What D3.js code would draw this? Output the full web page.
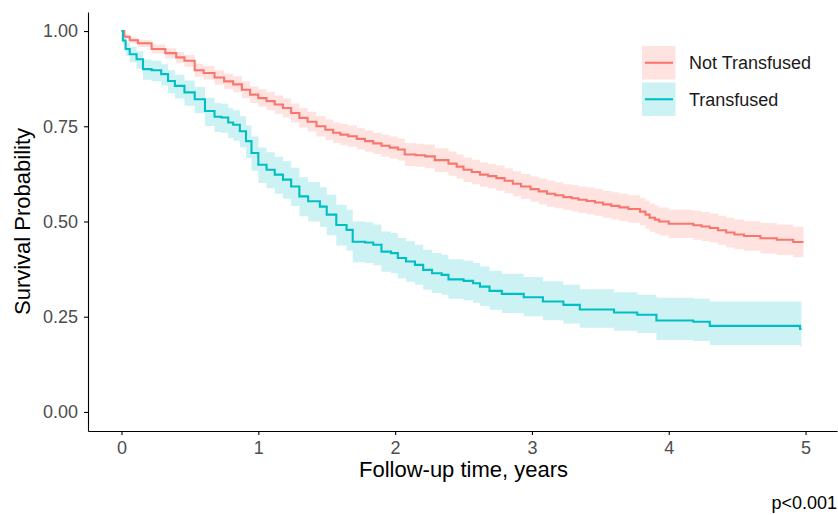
<!DOCTYPE html>
<html>
<head>
<meta charset="utf-8">
<script src="https://cdn.jsdelivr.net/npm/d3@7"></script>
<style>
  body { margin: 0; background: #fff; }
  svg { font-family: "Liberation Sans", Arial, sans-serif; }
  .axis path, .axis line { stroke: #000; stroke-width: 1.1; }
  .axis text { fill: #4d4d4d; font-size: 18px; }
</style>
</head>
<body>
<svg id="chart" width="838" height="515"></svg>
<script>
const groups = ['Not Transfused', 'Transfused'];
const colors = ['#F8766D', '#00BFC4'];
const fills = ['#fee3e1', '#ccf2f3'];

// Not Transfused: step times, survival, confidence band
const notTime = [0, 0.02, 0.06, 0.12, 0.22, 0.32, 0.40, 0.46, 0.535, 0.60, 0.68, 0.75, 0.816, 0.88, 0.94,
  1.00, 1.06, 1.12, 1.18, 1.24, 1.30, 1.36, 1.425, 1.49, 1.547, 1.60, 1.657, 1.72, 1.78, 1.84, 1.90, 1.96,
  2.02, 2.07, 2.15, 2.22, 2.29, 2.39, 2.45, 2.50, 2.56, 2.62, 2.68, 2.74, 2.80, 2.86, 2.92, 2.99, 3.05,
  3.11, 3.17, 3.23, 3.29, 3.34, 3.40, 3.46, 3.52, 3.58, 3.64, 3.705, 3.79, 3.83, 3.86, 3.90, 3.93, 4.00,
  4.18, 4.24, 4.30, 4.36, 4.42, 4.48, 4.55, 4.67, 4.79, 4.91, 4.985];
const notSurv = [1.0, 0.985, 0.976, 0.968, 0.953, 0.942, 0.931, 0.922, 0.897, 0.89, 0.878, 0.868, 0.860, 0.846, 0.833,
  0.824, 0.816, 0.807, 0.798, 0.785, 0.772, 0.762, 0.75, 0.741, 0.733, 0.728, 0.724, 0.717, 0.711, 0.705, 0.699, 0.694,
  0.689, 0.676, 0.674, 0.671, 0.661, 0.652, 0.644, 0.636, 0.630, 0.623, 0.619, 0.614, 0.607, 0.599, 0.592, 0.585, 0.579,
  0.573, 0.569, 0.564, 0.561, 0.557, 0.554, 0.550, 0.545, 0.541, 0.537, 0.533, 0.526, 0.518, 0.510, 0.505, 0.500, 0.494,
  0.490, 0.487, 0.483, 0.477, 0.471, 0.466, 0.462, 0.456, 0.452, 0.446, 0.446];
const notLower = [1.0, 0.979, 0.968, 0.958, 0.941, 0.928, 0.916, 0.906, 0.880, 0.872, 0.859, 0.848, 0.839, 0.824, 0.811,
  0.801, 0.792, 0.783, 0.773, 0.760, 0.746, 0.736, 0.723, 0.714, 0.706, 0.700, 0.696, 0.689, 0.683, 0.677, 0.670, 0.665,
  0.660, 0.646, 0.644, 0.640, 0.630, 0.620, 0.612, 0.604, 0.598, 0.591, 0.587, 0.581, 0.574, 0.566, 0.559, 0.552, 0.545,
  0.539, 0.535, 0.530, 0.526, 0.522, 0.519, 0.515, 0.510, 0.505, 0.501, 0.497, 0.490, 0.481, 0.473, 0.468, 0.463, 0.457,
  0.452, 0.449, 0.445, 0.439, 0.432, 0.427, 0.423, 0.416, 0.412, 0.406, 0.406];
const notUpper = [1.0, 0.991, 0.984, 0.977, 0.965, 0.955, 0.945, 0.937, 0.914, 0.908, 0.897, 0.888, 0.881, 0.868, 0.855,
  0.847, 0.840, 0.831, 0.823, 0.810, 0.798, 0.788, 0.777, 0.768, 0.760, 0.756, 0.752, 0.745, 0.739, 0.733, 0.728, 0.723,
  0.718, 0.706, 0.704, 0.702, 0.692, 0.684, 0.676, 0.668, 0.662, 0.655, 0.651, 0.647, 0.640, 0.632, 0.625, 0.618, 0.613,
  0.607, 0.603, 0.598, 0.596, 0.592, 0.589, 0.585, 0.580, 0.577, 0.573, 0.569, 0.562, 0.555, 0.547, 0.542, 0.537, 0.531,
  0.528, 0.525, 0.521, 0.515, 0.510, 0.505, 0.501, 0.496, 0.492, 0.486, 0.486];

// Transfused
const trTime = [0, 0.01, 0.03, 0.06, 0.11, 0.157, 0.22, 0.29, 0.34, 0.39, 0.46, 0.535, 0.61, 0.68, 0.73, 0.78,
  0.816, 0.865, 0.91, 0.95, 1.0, 1.06, 1.12, 1.18, 1.24, 1.30, 1.364, 1.45, 1.50, 1.57, 1.645, 1.69, 1.78,
  1.84, 1.90, 1.97, 2.02, 2.08, 2.145, 2.205, 2.27, 2.34, 2.39, 2.5, 2.57, 2.62, 2.69, 2.78, 2.94, 3.08,
  3.23, 3.35, 3.60, 3.77, 3.91, 4.18, 4.30, 4.96, 4.97];
const trSurv = [1.0, 0.975, 0.953, 0.939, 0.926, 0.9, 0.897, 0.887, 0.869, 0.856, 0.839, 0.821, 0.79, 0.775, 0.773, 0.76,
  0.754, 0.737, 0.711, 0.68, 0.649, 0.636, 0.623, 0.61, 0.592, 0.566, 0.553, 0.539, 0.518, 0.491, 0.478, 0.447, 0.445,
  0.439, 0.421, 0.417, 0.404, 0.395, 0.386, 0.373, 0.364, 0.36, 0.348, 0.344, 0.338, 0.329, 0.318, 0.31, 0.301, 0.29,
  0.281, 0.269, 0.261, 0.255, 0.24, 0.237, 0.226, 0.218, 0.218];
const trLower = [1.0, 0.962, 0.935, 0.918, 0.901, 0.872, 0.868, 0.857, 0.837, 0.823, 0.804, 0.784, 0.751, 0.735, 0.733, 0.719,
  0.712, 0.694, 0.666, 0.633, 0.601, 0.587, 0.573, 0.560, 0.541, 0.514, 0.500, 0.486, 0.464, 0.437, 0.424, 0.393, 0.391,
  0.385, 0.368, 0.364, 0.351, 0.342, 0.334, 0.321, 0.312, 0.308, 0.297, 0.293, 0.287, 0.278, 0.268, 0.260, 0.251, 0.241,
  0.232, 0.221, 0.213, 0.207, 0.189, 0.186, 0.176, 0.172, 0.172];
const trUpper = [1.0, 0.988, 0.971, 0.958, 0.947, 0.925, 0.922, 0.913, 0.897, 0.885, 0.870, 0.853, 0.825, 0.811, 0.809, 0.797,
  0.792, 0.776, 0.752, 0.723, 0.694, 0.682, 0.670, 0.658, 0.641, 0.616, 0.604, 0.590, 0.570, 0.544, 0.531, 0.500, 0.498,
  0.492, 0.474, 0.470, 0.457, 0.448, 0.439, 0.426, 0.417, 0.413, 0.401, 0.397, 0.391, 0.382, 0.371, 0.363, 0.354, 0.343,
  0.334, 0.322, 0.314, 0.308, 0.300, 0.297, 0.290, 0.290, 0.290];

const yTicks = [0, 0.25, 0.5, 0.75, 1];
const xTicks = [0, 1, 2, 3, 4, 5];

const series = [
  { time: notTime, surv: notSurv, lower: notLower, upper: notUpper },
  { time: trTime, surv: trSurv, lower: trLower, upper: trUpper },
].map((s, g) => ({
  group: g,
  points: s.time.map((t, i) => ({ t, s: s.surv[i], lo: s.lower[i], hi: s.upper[i] })),
}));

const svg = d3.select('#chart');
const panel = { left: 88, right: 837, top: 12, bottom: 431 };

const x = d3.scaleLinear().domain([-0.245, 5.23]).range([panel.left, panel.right]);
const y = d3.scaleLinear().domain([-0.05, 1.05]).range([panel.bottom, panel.top]);

const area = d3.area()
  .curve(d3.curveStepAfter)
  .x(d => x(d.t))
  .y0(d => y(d.lo))
  .y1(d => y(d.hi));

const line = d3.line()
  .curve(d3.curveStepAfter)
  .x(d => x(d.t))
  .y(d => y(d.s));

const plot = svg.append('g');

plot.selectAll('.band')
  .data(series)
  .enter()
  .append('path')
  .attr('class', 'band')
  .attr('d', d => area(d.points))
  .style('fill', d => fills[d.group]);

plot.selectAll('.curve')
  .data(series)
  .enter()
  .append('path')
  .attr('class', 'curve')
  .attr('d', d => line(d.points))
  .style('fill', 'none')
  .style('stroke', d => colors[d.group])
  .style('stroke-width', 2.1);

svg.append('g')
  .attr('class', 'axis')
  .attr('transform', `translate(${panel.left},0)`)
  .call(d3.axisLeft(y).tickValues(yTicks).tickFormat(d3.format('.2f')).tickSize(4).tickSizeOuter(0).tickPadding(6));

svg.append('g')
  .attr('class', 'axis')
  .attr('transform', `translate(0,${panel.bottom})`)
  .call(d3.axisBottom(x).tickValues(xTicks).tickFormat(d3.format('d')).tickSize(4).tickSizeOuter(0).tickPadding(6));

svg.append('text')
  .attr('x', (x(0) + x(5)) / 2)
  .attr('y', 477)
  .attr('text-anchor', 'middle')
  .style('font-size', '22px')
  .style('fill', '#000')
  .text('Follow-up time, years');

svg.append('text')
  .attr('transform', `translate(30,${(panel.top + panel.bottom) / 2}) rotate(-90)`)
  .attr('text-anchor', 'middle')
  .style('font-size', '22px')
  .style('fill', '#000')
  .text('Survival Probability');

svg.append('text')
  .attr('x', 837)
  .attr('y', 509)
  .attr('text-anchor', 'end')
  .style('font-size', '18px')
  .style('fill', '#000')
  .text('p<0.001');

// legend
const legend = svg.append('g').attr('transform', 'translate(642,46)');
const keys = legend.selectAll('g')
  .data(groups)
  .enter()
  .append('g')
  .attr('transform', (d, i) => `translate(0,${i * 36.5})`);

keys.append('rect')
  .attr('width', 33.5)
  .attr('height', 33.5)
  .style('fill', (d, i) => fills[i]);

keys.append('line')
  .attr('x1', 3)
  .attr('x2', 31)
  .attr('y1', 16.75)
  .attr('y2', 16.75)
  .style('stroke', (d, i) => colors[i])
  .style('stroke-width', 2.1);

keys.append('text')
  .attr('x', 47)
  .attr('y', 16.75)
  .attr('dy', '0.36em')
  .style('font-size', '18px')
  .style('fill', '#1a1a1a')
  .text(d => d);
</script>
</body>
</html>
